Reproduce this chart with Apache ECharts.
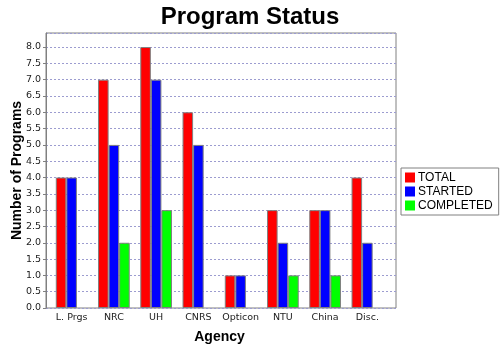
<!DOCTYPE html>
<html>
<head>
<meta charset="utf-8">
<script src="https://cdn.jsdelivr.net/npm/echarts@6/dist/echarts.min.js"></script>
<style>html,body{margin:0;padding:0;background:#fff}#c{width:500px;height:350px}</style>
</head>
<body>
<div id="c"></div>
<script>
const categories = ['L. Prgs', 'NRC', 'UH', 'CNRS', 'Opticon', 'NTU', 'China', 'Disc.'];
const total = [4, 7, 8, 6, 1, 3, 3, 4];
const started = [4, 5, 7, 5, 1, 2, 3, 2];
const completed = [0, 2, 3, 0, 0, 1, 1, 0];
const seriesNames = ['TOTAL', 'STARTED', 'COMPLETED'];

const chart = echarts.init(document.getElementById('c'), null, {renderer: 'canvas'});
const YMAX = 8.43;
const labelFont = {fontFamily: 'DejaVu Sans', fontSize: 9.5, color: '#222'};
const barStyle = (c) => ({color: c, borderColor: '#808080', borderWidth: 1});
const toBars = (arr) => arr.map(v => (v === 0 ? {value: v, itemStyle: {borderWidth: 0, opacity: 0}} : v));
chart.setOption({
  animation: false,
  backgroundColor: '#fff',
  title: {
    text: 'Program Status', left: 'center', top: 0,
    textStyle: {fontFamily: 'Liberation Sans', fontWeight: 'bold', fontSize: 24, color: '#000'}
  },
  legend: {
    orient: 'vertical', left: 401, top: 168,
    data: seriesNames,
    itemWidth: 10, itemHeight: 10, itemGap: 1,
    padding: [3, 6, 3, 4],
    borderColor: '#808080', borderWidth: 1,
    icon: 'rect',
    itemStyle: {borderWidth: 0},
    textStyle: {fontFamily: 'Liberation Sans', fontSize: 12, lineHeight: 13, color: '#000', padding: [0, 0, 0, -2]}
  },
  grid: [
    {left: 46, top: 33, width: 350, height: 275, show: true, borderColor: '#808080', borderWidth: 1, backgroundColor: '#fff', outerBoundsMode: 'none', containLabel: false},
    {left: 50.5, top: 33, width: 338, height: 275, outerBoundsMode: 'none', containLabel: false}
  ],
  xAxis: [
    {gridIndex: 0, type: 'value', show: false, min: 0, max: 1},
    {gridIndex: 1, type: 'category', data: categories,
     axisLine: {show: false}, axisTick: {show: false},
     axisLabel: Object.assign({margin: 5, interval: 0}, labelFont),
     name: 'Agency', nameLocation: 'middle', nameGap: 22,
     nameTextStyle: {fontFamily: 'Liberation Sans', fontWeight: 'bold', fontSize: 14, color: '#000'}}
  ],
  yAxis: [
    {gridIndex: 0, type: 'value', min: 0, max: YMAX, interval: 0.5,
     axisLine: {show: true, lineStyle: {color: '#808080'}},
     axisTick: {show: true, length: 3, lineStyle: {color: '#808080'}},
     axisLabel: Object.assign({margin: 5, showMaxLabel: false,
       formatter: v => (Math.abs(v * 2 - Math.round(v * 2)) < 1e-6 ? v.toFixed(1) : '')}, labelFont),
     splitLine: {show: true, lineStyle: {color: '#9c9cd0', type: [2, 2], width: 1}},
     name: 'Number of Programs', nameLocation: 'middle', nameGap: 22, nameRotate: 90,
     nameMoveOverlap: false,
     nameTextStyle: {fontFamily: 'Liberation Sans', fontWeight: 'bold', fontSize: 14, color: '#000'}},
    {gridIndex: 1, type: 'value', min: 0, max: YMAX, show: false, splitLine: {show: false}}
  ],
  series: [
    {name: seriesNames[0], type: 'bar', xAxisIndex: 1, yAxisIndex: 1, data: toBars(total), itemStyle: barStyle('#ff0000'), barGap: '0%', barCategoryGap: '25%'},
    {name: seriesNames[1], type: 'bar', xAxisIndex: 1, yAxisIndex: 1, data: toBars(started), itemStyle: barStyle('#0000ff'), barGap: '0%', barCategoryGap: '25%'},
    {name: seriesNames[2], type: 'bar', xAxisIndex: 1, yAxisIndex: 1, data: toBars(completed), itemStyle: barStyle('#00ff00'), barGap: '0%', barCategoryGap: '25%'}
  ]
});
</script>
</body>
</html>
